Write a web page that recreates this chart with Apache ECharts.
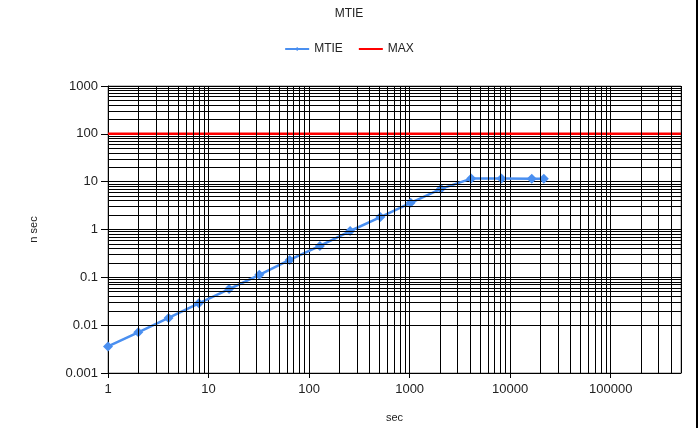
<!DOCTYPE html>
<html>
<head>
<meta charset="utf-8">
<script src="https://cdn.jsdelivr.net/npm/echarts@6/dist/echarts.min.js"></script>
<style>html,body{margin:0;padding:0;background:#fff}#c{width:698px;height:428px}</style>
</head>
<body>
<div id="c"></div>
<script>
// Data
const mtieX = [1, 2, 4, 8, 16, 32, 64, 128, 256, 512, 1024, 2048, 4096, 8192, 16384, 21600];
const mtieY = [0.0036, 0.0071, 0.0142, 0.0286, 0.057, 0.113, 0.231, 0.453, 0.93, 1.82, 3.62, 7.08, 11.6, 11.6, 11.5, 11.5];
const maxX = [1, 500000];
const maxY = [100, 100];
const xMin = 1, xMax = 500000;
const yMin = 0.001, yMax = 1000;

// minor grid line positions (2..9 of each decade)
const minorX = [];
for (let k = 0; k <= 5; k++) for (let d = 2; d <= 9; d++) { const v = d * Math.pow(10, k); if (v < xMax) minorX.push(v); }
const minorY = [];
for (let k = -3; k <= 2; k++) for (let d = 2; d <= 9; d++) minorY.push(+(d * Math.pow(10, k)).toPrecision(3));

const FONT = 'Liberation Sans';
const fmt = v => String(+Number(v).toPrecision(6));

const chart = echarts.init(document.getElementById('c'), null, {renderer: 'canvas'});
chart.setOption({
  animation: false,
  backgroundColor: '#fff',
  textStyle: {fontFamily: FONT},
  title: {text: 'MTIE', left: 'center', top: 3, textStyle: {fontSize: 12, fontWeight: 'normal', color: '#222', fontFamily: FONT}},
  legend: {
    top: 38, left: 'center', itemWidth: 24, itemHeight: 5, itemGap: 15,
    data: [{name: 'MTIE'}, {name: 'MAX', itemStyle: {opacity: 0}}],
    textStyle: {fontSize: 12, color: '#222', fontFamily: FONT}
  },
  grid: {left: 108, right: 17, top: 86, bottom: 54, show: true, borderColor: '#888', borderWidth: 1},
  xAxis: {
    type: 'log', logBase: 10, min: xMin, max: xMax,
    name: 'sec', nameLocation: 'middle', nameGap: 39,
    nameTextStyle: {fontSize: 11, color: '#222'},
    axisLine: {show: true, lineStyle: {color: '#000'}},
    axisTick: {show: true, length: 5, lineStyle: {color: '#000'}},
    axisLabel: {fontSize: 13, color: '#222', margin: 10, formatter: fmt, showMaxLabel: false},
    splitLine: {show: true, lineStyle: {color: '#000', width: 1}}
  },
  yAxis: {
    type: 'log', logBase: 10, min: yMin, max: yMax,
    name: 'n sec', nameLocation: 'middle', nameGap: 69,
    nameTextStyle: {fontSize: 11, color: '#222'},
    axisLine: {show: true, lineStyle: {color: '#000'}},
    axisTick: {show: true, length: 7, lineStyle: {color: '#000'}},
    axisLabel: {fontSize: 13, color: '#222', margin: 10, formatter: fmt},
    splitLine: {show: true, lineStyle: {color: '#000', width: 1}}
  },
  series: [
    {
      name: 'grid', type: 'line', data: [], silent: true, z: 1,
      markLine: {
        silent: true, symbol: ['none', 'none'], animation: false,
        label: {show: false},
        lineStyle: {color: '#000', width: 1, type: 'solid'},
        emphasis: {disabled: true},
        data: minorX.map(v => ({xAxis: v})).concat(minorY.map(v => ({yAxis: v})))
      }
    },
    {
      name: 'MAX', type: 'line', z: 3,
      data: maxX.map((x, i) => [x, maxY[i]]),
      symbol: 'none', lineStyle: {color: '#ff0000', width: 2.5}, itemStyle: {color: '#ff0000'}
    },
    {
      name: 'MTIE', type: 'line', z: 4,
      data: mtieX.map((x, i) => [x, mtieY[i]]),
      symbol: 'diamond', symbolSize: 10,
      lineStyle: {color: '#4a8ff0', width: 2.5}, itemStyle: {color: '#4a8ff0'}
    }
  ],
  graphic: [{type: 'rect', left: 696, top: 0, shape: {width: 2, height: 428}, style: {fill: '#000'}, silent: true}]
});
</script>
</body>
</html>
